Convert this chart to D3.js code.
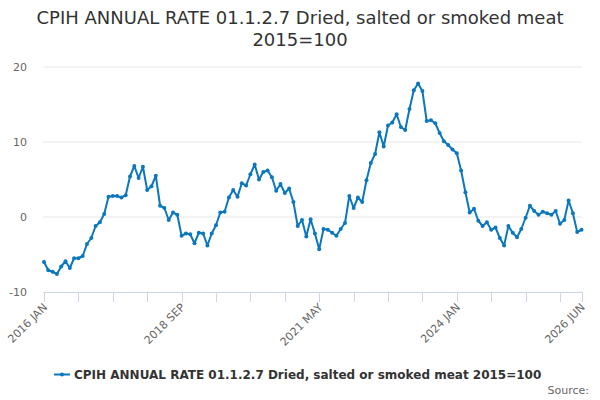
<!DOCTYPE html>
<html>
<head>
<meta charset="utf-8">
<script src="https://cdn.jsdelivr.net/npm/d3@7"></script>
<style>
  body { margin: 0; background: #fff; }
  svg { font-family: "DejaVu Sans", sans-serif; }
</style>
</head>
<body>
<div id="chart"></div>
<script>
// monthly series, 2016 JAN .. 2026 JUN
var startYear = 2016;
var months = ["JAN","FEB","MAR","APR","MAY","JUN","JUL","AUG","SEP","OCT","NOV","DEC"];
var values = [
  -6.0, -7.1, -7.3, -7.6, -6.6, -5.9, -6.8, -5.5, -5.5, -5.2, -3.6, -2.8,
  -1.2, -0.7, 0.4, 2.7, 2.8, 2.8, 2.6, 2.9, 5.4, 6.8, 5.2, 6.7,
  3.6, 4.1, 5.5, 1.5, 1.2, -0.4, 0.6, 0.3, -2.5, -2.2, -2.3, -3.5,
  -2.1, -2.2, -3.8, -2.2, -1.1, 0.6, 0.7, 2.6, 3.6, 2.7, 4.5, 4.2,
  5.7, 7.0, 5.0, 6.0, 6.2, 5.3, 3.5, 4.4, 3.2, 3.8, 2.0, -1.2,
  -0.4, -2.6, -0.3, -2.2, -4.3, -1.6, -1.7, -2.1, -2.5, -1.6, -0.8, 2.8,
  1.2, 2.6, 2.0, 4.9, 7.2, 8.4, 11.3, 9.4, 12.2, 12.6, 13.7, 12.0,
  11.6, 14.4, 16.9, 17.8, 16.8, 12.8, 12.9, 12.5, 11.2, 10.1, 9.6, 9.0,
  8.5, 6.2, 3.3, 0.6, 1.1, -0.5, -1.2, -0.7, -1.7, -1.4, -2.8, -3.8,
  -1.2, -2.1, -2.7, -1.6, -0.1, 1.5, 0.8, 0.3, 0.7, 0.5, 0.3, 0.8,
  -0.9, -0.4, 2.2, 0.5, -2.0, -1.7
];
var labels = values.map(function(v, i) {
  return (startYear + Math.floor(i / 12)) + " " + months[i % 12];
});
var yTicks = [-10, 0, 10, 20];
var tickIdx = [0, 8, 16, 24, 32, 40, 48, 56, 64, 72, 80, 88, 96, 104, 112, 120, 125];
var labelIdx = [0, 32, 64, 96, 125];
var seriesName = "CPIH ANNUAL RATE 01.1.2.7 Dried, salted or smoked meat 2015=100";

var W = 600, H = 400;
var margin = {top: 67, right: 18, bottom: 108, left: 44},
    width = W - margin.left - margin.right,
    height = H - margin.top - margin.bottom;
var color = "#0b77bd";

var svg = d3.select("#chart")
  .append("svg")
    .attr("width", W)
    .attr("height", H);

// title
var title = svg.append("text")
  .attr("text-anchor", "middle")
  .style("font-size", "18px")
  .style("fill", "#333");
title.append("tspan").attr("x", W / 2).attr("y", 24)
  .text("CPIH ANNUAL RATE 01.1.2.7 Dried, salted or smoked meat");
title.append("tspan").attr("x", W / 2).attr("y", 46).text("2015=100");

var g = svg.append("g")
  .attr("transform", "translate(" + margin.left + "," + margin.top + ")");

var x = d3.scaleLinear()
  .domain([0, values.length - 1])
  .range([0, 537.5]);

var y = d3.scaleLinear()
  .domain([-10, 20])
  .range([height, 0]);

// grid + y labels
g.selectAll(".grid")
  .data(yTicks.filter(function(d) { return d !== -10; }))
  .enter()
  .append("line")
    .attr("x1", -1)
    .attr("x2", width)
    .attr("y1", function(d) { return y(d); })
    .attr("y2", function(d) { return y(d); })
    .attr("stroke", "#e6e6e6");

g.selectAll(".ylab")
  .data(yTicks)
  .enter()
  .append("text")
    .attr("x", -17)
    .attr("y", function(d) { return y(d) + 4; })
    .attr("text-anchor", "end")
    .style("font-size", "11px")
    .style("fill", "#666")
    .text(function(d) { return d; });

// x axis
g.append("line")
  .attr("x1", -1)
  .attr("x2", width)
  .attr("y1", height + 0.5)
  .attr("y2", height + 0.5)
  .attr("stroke", "#ccd6eb");

g.selectAll(".xtick")
  .data(tickIdx)
  .enter()
  .append("line")
    .attr("x1", function(d) { return Math.round(x(d)) + 0.5; })
    .attr("x2", function(d) { return Math.round(x(d)) + 0.5; })
    .attr("y1", height)
    .attr("y2", height + 10)
    .attr("stroke", "#ccd6eb");

g.selectAll(".xlab")
  .data(labelIdx)
  .enter()
  .append("text")
    .attr("transform", function(d) {
      return "translate(" + (x(d) + 4) + "," + (height + 16) + ")rotate(-45)";
    })
    .attr("text-anchor", "end")
    .style("font-size", "11px")
    .style("fill", "#666")
    .text(function(d) { return labels[d]; });

// series
var line = d3.line()
  .x(function(d, i) { return x(i); })
  .y(function(d) { return y(d); });

g.append("path")
  .datum(values)
  .attr("d", line)
  .attr("fill", "none")
  .attr("stroke", color)
  .attr("stroke-width", 2)
  .attr("stroke-linejoin", "round");

g.selectAll(".dot")
  .data(values)
  .enter()
  .append("circle")
    .attr("cx", function(d, i) { return x(i); })
    .attr("cy", function(d) { return y(d); })
    .attr("r", 2)
    .attr("fill", color);

// legend
var leg = svg.append("g").attr("transform", "translate(0,374)");
var legText = leg.append("text")
  .attr("x", 74)
  .attr("y", 5)
  .style("font-size", "12px")
  .style("font-weight", "bold")
  .style("fill", "#333")
  .text(seriesName);
leg.append("line")
  .attr("x1", 54).attr("x2", 70)
  .attr("y1", 0.5).attr("y2", 0.5)
  .attr("stroke", color)
  .attr("stroke-width", 2);
leg.append("circle")
  .attr("cx", 62).attr("cy", 0.5).attr("r", 2)
  .attr("fill", color);

// credits
svg.append("text")
  .attr("x", 589)
  .attr("y", 394)
  .attr("text-anchor", "end")
  .style("font-size", "11px")
  .style("fill", "#666")
  .text("Source:");
</script>
</body>
</html>
